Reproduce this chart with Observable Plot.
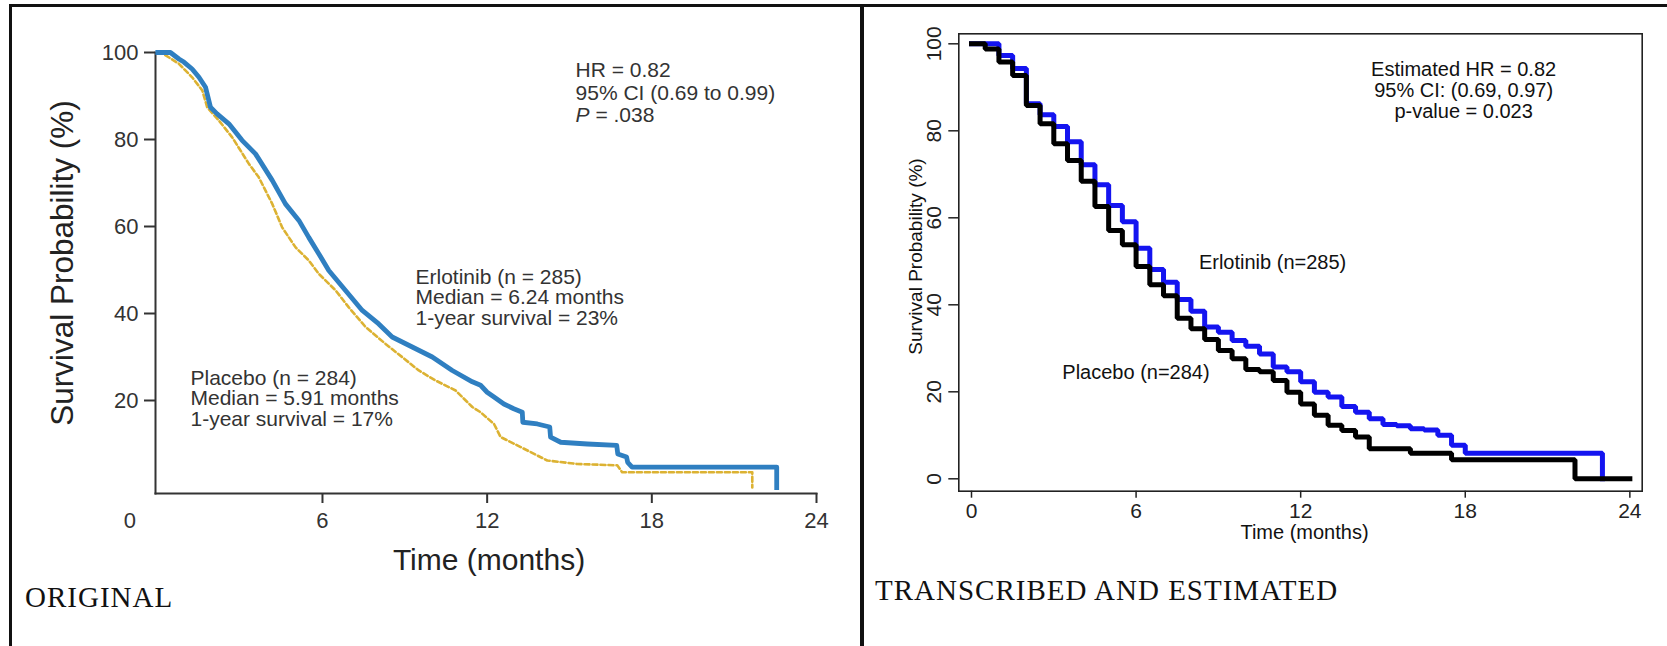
<!DOCTYPE html>
<html><head><meta charset="utf-8">
<script src="https://cdn.jsdelivr.net/npm/d3@7"></script>
<script src="https://cdn.jsdelivr.net/npm/@observablehq/plot@0.6"></script>
<style>
html,body{margin:0;padding:0;background:#fff;}
#page{position:relative;width:1667px;height:646px;overflow:hidden;background:#fff;}
.panel{position:absolute;top:0;height:646px;}
.rule{position:absolute;background:#111;}
.caption{position:absolute;font-family:"Liberation Serif","Times New Roman",serif;font-size:29px;letter-spacing:1px;color:#111;white-space:nowrap;line-height:1;}
</style></head>
<body><div id="page">
<div id="left" class="panel" style="left:0;width:862px"></div>
<div id="right" class="panel" style="left:862px;width:805px"></div>
<div class="rule" style="left:9px;top:4px;width:1658px;height:3px"></div>
<div class="rule" style="left:9px;top:4px;width:3px;height:642px"></div>
<div class="rule" style="left:860px;top:4px;width:4px;height:642px"></div>
<div class="caption" style="left:25px;top:583px">ORIGINAL</div>
<div class="caption" style="left:875px;top:576px">TRANSCRIBED AND ESTIMATED</div>
</div>
<script>
// ---------- data ----------
// ORIGINAL panel (months, survival %)
const origTimeErlotinib = [0, 0.46, 0.77, 0.95, 1.25, 1.5, 1.74, 1.92, 2.16, 2.59, 3.07, 3.56, 4.17, 4.65, 5.14, 5.5, 5.87, 6.23, 6.84, 7.45, 8.05, 8.54, 9.27, 10.0, 10.73, 11.46, 11.76, 12.0, 12.25, 12.61, 12.97, 13.28, 13.3, 13.83, 14.28, 14.31, 14.68, 15.65, 16.72, 16.76, 17.08, 17.12, 17.28, 22.55, 22.55];
const origSurvErlotinib = [100, 100, 98.5, 97.8, 96.2, 94.3, 92.0, 87.4, 85.9, 83.6, 79.8, 76.7, 70.6, 65.2, 61.4, 57.5, 53.7, 49.9, 45.3, 40.7, 37.6, 34.6, 32.3, 30.0, 26.9, 24.3, 23.5, 21.9, 20.8, 19.2, 18.1, 17.3, 15.0, 14.6, 13.9, 11.6, 10.4, 10.0, 9.7, 7.7, 7.0, 5.8, 4.7, 4.7, 0];
const origTimePlacebo = [0, 0.2, 0.77, 1.25, 1.62, 1.8, 2.22, 2.71, 3.32, 3.68, 4.17, 4.53, 5.02, 5.5, 5.87, 6.48, 6.96, 7.57, 8.3, 8.9, 9.51, 10.12, 10.85, 11.46, 11.76, 12.25, 12.49, 13.22, 14.19, 15.28, 16.74, 16.92, 21.66, 21.66];
const origSurvPlacebo = [100, 99.7, 97.4, 94.3, 91.3, 87.4, 84.4, 80.5, 74.4, 71.3, 65.2, 59.8, 55.2, 52.2, 49.1, 45.3, 41.4, 36.9, 33.0, 30.0, 26.9, 24.6, 22.3, 18.5, 17.3, 14.6, 11.6, 9.3, 6.2, 5.4, 5.1, 3.5, 3.5, 0];
// TRANSCRIBED AND ESTIMATED panel (step functions)
const estTimeErlotinib = [0, 1, 1.5, 2, 2.5, 3, 3.5, 4, 4.5, 5, 5.5, 6, 6.5, 7, 7.5, 8, 8.5, 9, 9.5, 10, 10.5, 11, 11.5, 12, 12.5, 13, 13.5, 14, 14.5, 15, 15.5, 16, 16.5, 17, 17.5, 18, 23];
const estSurvErlotinib = [100, 97.3, 94.3, 86.2, 83.7, 81.0, 77.5, 72.2, 67.6, 62.8, 59.1, 53.0, 48.1, 45.2, 41.2, 38.5, 34.9, 33.7, 31.8, 30.5, 28.7, 25.7, 24.6, 22.3, 19.9, 18.8, 16.6, 15.3, 13.8, 12.5, 12.2, 11.5, 11.2, 10.0, 7.7, 5.9, 0];
const estTimePlacebo = [0, 0.5, 1, 1.5, 2, 2.5, 3, 3.5, 4, 4.5, 5, 5.5, 6, 6.5, 7, 7.5, 8, 8.5, 9, 9.5, 10, 10.5, 11, 11.5, 12, 12.5, 13, 13.5, 14, 14.5, 16, 17.5, 22, 24];
const estSurvPlacebo = [100, 98.8, 95.8, 92.7, 85.8, 81.6, 77.0, 73.2, 68.4, 62.6, 57.1, 53.8, 48.8, 44.6, 42.1, 36.9, 34.5, 32.0, 29.5, 27.6, 25.1, 24.6, 22.6, 19.9, 17.2, 14.6, 12.3, 11.1, 9.6, 6.9, 5.9, 4.4, 0, 0];

// ticks
const origXTicks = [6, 12, 18, 24];
const origXZeroLabel = [0];
const origYTicks = [20, 40, 60, 80, 100];
const estXTicks = [0, 6, 12, 18, 24];
const estYTicks = [0, 20, 40, 60, 80, 100];

// texts
const origStats = ["HR = 0.82", "95% CI (0.69 to 0.99)", "P = .038"];
const origErlotinibText = ["Erlotinib (n = 285)", "Median = 6.24 months", "1-year survival = 23%"];
const origPlaceboText = ["Placebo (n = 284)", "Median = 5.91 months", "1-year survival = 17%"];
const estStats = ["Estimated HR = 0.82", "95% CI: (0.69, 0.97)", "p-value = 0.023"];
const estErlotinibText = "Erlotinib (n=285)";
const estPlaceboText = "Placebo (n=284)";
const yTitle = "Survival Probability (%)";
const xTitle = "Time (months)";

// ---------- build ----------
const zip = (ts, ss) => ts.map((t, i) => ({t, s: ss[i]}));
const SANS = "'Liberation Sans', Arial, sans-serif";
const NARROW = "'Liberation Sans Narrow', 'Arial Narrow', 'Liberation Sans', sans-serif";

const left = Plot.plot({
  width: 862, height: 646,
  marginLeft: 155, marginRight: 46, marginTop: 52, marginBottom: 153,
  x: {domain: [-0.084, 24]},
  y: {domain: [-1.38, 100]},
  style: {background: "transparent", overflow: "visible", fontFamily: SANS},
  marks: [
    Plot.frame({anchor: "left", stroke: "#333", strokeWidth: 2}),
    Plot.frame({anchor: "bottom", stroke: "#333", strokeWidth: 2}),
    Plot.axisY(origYTicks, {tickSize: 11, tickPadding: 6, fontSize: 22, color: "#333", strokeWidth: 2, label: null, fontFamily: SANS}),
    Plot.axisX(origXTicks, {tickSize: 10, tickPadding: 9, fontSize: 22, color: "#333", strokeWidth: 2, label: null, fontFamily: SANS}),
    Plot.text(origXZeroLabel, {x: d => d, text: d => String(d), frameAnchor: "bottom", textAnchor: "middle", lineAnchor: "top", dy: 19, dx: -28, fontSize: 22, fill: "#333"}),
    Plot.text([yTitle], {text: d => d, frameAnchor: "left", textAnchor: "middle", lineAnchor: "middle", rotate: -90, dx: -93, dy: -10, fontSize: 31.5, fill: "#222"}),
    Plot.text([xTitle], {text: d => d, frameAnchor: "bottom", textAnchor: "middle", lineAnchor: "middle", dx: 3, dy: 67, fontSize: 30, fill: "#222"}),
    Plot.line(zip(origTimePlacebo, origSurvPlacebo), {x: "t", y: "s", stroke: "#dcb232", strokeWidth: 2.6, strokeDasharray: "5,3"}),
    Plot.line(zip(origTimeErlotinib, origSurvErlotinib), {x: "t", y: "s", stroke: "#2f7fc1", strokeWidth: 4.8, strokeLinecap: "square"}),
    Plot.text([{t: 15.22, v: 90.87, label: origStats.join("\n")}], {x: "t", y: "v", text: "label", textAnchor: "start", lineAnchor: "middle", lineHeight: 1.086, fontSize: 21, fill: "#333"}),
    Plot.text([{t: 9.39, v: 43.6, label: origErlotinibText.join("\n")}], {x: "t", y: "v", text: "label", textAnchor: "start", lineAnchor: "middle", lineHeight: 0.99, fontSize: 21, fill: "#333"}),
    Plot.text([{t: 1.19, v: 20.4, label: origPlaceboText.join("\n")}], {x: "t", y: "v", text: "label", textAnchor: "start", lineAnchor: "middle", lineHeight: 0.99, fontSize: 21, fill: "#333"})
  ]
});
document.getElementById("left").appendChild(left);
// italic P
d3.select(left).selectAll("tspan").filter(function() { return this.textContent === "P = .038"; }).each(function() {
  const t = d3.select(this);
  t.text(null);
  t.append("tspan").attr("font-style", "italic").text("P");
  t.append("tspan").text(" = .038");
});

const right = Plot.plot({
  width: 805, height: 646,
  marginLeft: 96.3, marginRight: 25.3, marginTop: 33.3, marginBottom: 155.3,
  x: {domain: [-0.463, 24.45]},
  y: {domain: [-2.85, 102.3]},
  style: {background: "transparent", overflow: "visible", fontFamily: SANS},
  marks: [
    Plot.frame({stroke: "#222", strokeWidth: 1.6}),
    Plot.axisX(estXTicks, {tickSize: 7, tickPadding: 5, fontSize: 21, color: "#222", strokeWidth: 1.5, label: null, fontFamily: NARROW}),
    Plot.axisY(estYTicks, {tickSize: 10, tickFormat: () => "", color: "#222", strokeWidth: 1.5, label: null}),
    Plot.text(estYTicks, {y: d => d, text: d => String(d), frameAnchor: "left", textAnchor: "middle", lineAnchor: "middle", rotate: -90, dx: -24.3, fontSize: 21, fill: "#222", fontFamily: NARROW}),
    Plot.text([yTitle], {text: d => d, frameAnchor: "left", textAnchor: "middle", lineAnchor: "middle", rotate: -90, dx: -43, dy: -6, fontSize: 19, fill: "#111"}),
    Plot.text([xTitle], {text: d => d, frameAnchor: "bottom", textAnchor: "middle", lineAnchor: "middle", dx: 4, dy: 41, fontSize: 20, fill: "#111"}),
    Plot.line(zip(estTimeErlotinib, estSurvErlotinib), {x: "t", y: "s", curve: "step-after", stroke: "#1414f0", strokeWidth: 5, strokeLinecap: "square", strokeLinejoin: "miter"}),
    Plot.line(zip(estTimePlacebo, estSurvPlacebo), {x: "t", y: "s", curve: "step-after", stroke: "#000", strokeWidth: 5, strokeLinecap: "square", strokeLinejoin: "miter"}),
    Plot.text([{t: 17.94, v: 89.4, label: estStats.join("\n")}], {x: "t", y: "v", text: "label", textAnchor: "middle", lineAnchor: "middle", lineHeight: 1.05, fontSize: 20, fill: "#111"}),
    Plot.text([{t: 8.29, v: 49.7, label: estErlotinibText}], {x: "t", y: "v", text: "label", textAnchor: "start", lineAnchor: "middle", fontSize: 20, fill: "#111"}),
    Plot.text([{t: 3.31, v: 24.5, label: estPlaceboText}], {x: "t", y: "v", text: "label", textAnchor: "start", lineAnchor: "middle", fontSize: 20, fill: "#111"})
  ]
});
document.getElementById("right").appendChild(right);
</script>
</body></html>
